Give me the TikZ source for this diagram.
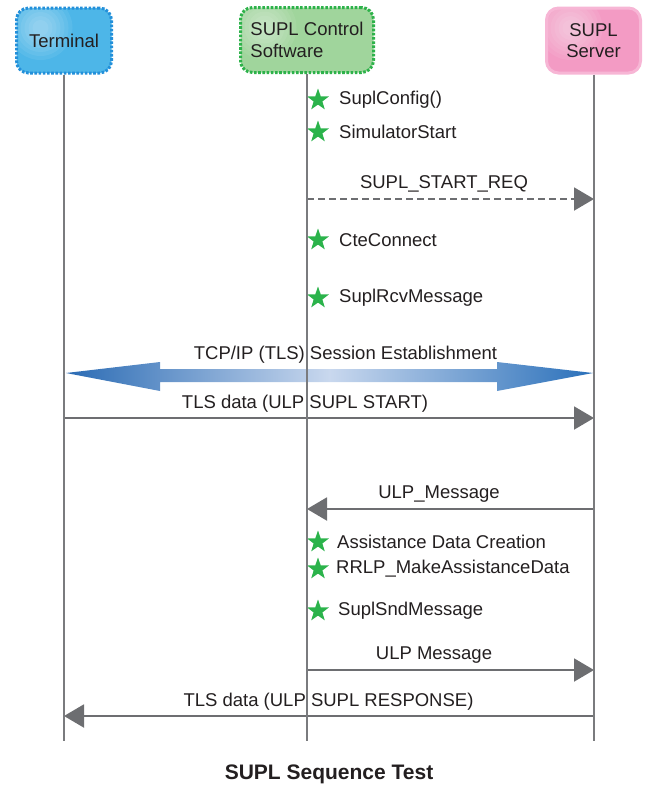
\documentclass[tikz,border=0pt]{standalone}
\usepackage{fontspec}
\setmainfont{Liberation Sans}
\usetikzlibrary{shapes.geometric,arrows.meta}
\definecolor{lifegray}{HTML}{7A7B7E}
\definecolor{arrgray}{HTML}{6D6E71}
\definecolor{termfill}{HTML}{4DB6E8}
\definecolor{termedge}{HTML}{2390DA}
\definecolor{ctlfill}{HTML}{A0D59C}
\definecolor{ctledge}{HTML}{2DB24A}
\definecolor{srvfill}{HTML}{F39BC4}
\definecolor{srvedge}{HTML}{F7B6D5}
\definecolor{stargreen}{HTML}{2BB34B}
\definecolor{txt}{HTML}{231F20}
\definecolor{bluedark}{HTML}{2A6BB4}
\definecolor{blueright}{HTML}{2A70BA}
\definecolor{bluelight}{HTML}{C9D8EE}
\begin{document}
\begin{tikzpicture}[x=1pt,y=-1pt,
  font=\fontsize{18.5}{22}\selectfont,
  every node/.style={text=txt},
  hdr/.style={rounded corners=12pt, minimum height=65pt, line width=3pt, inner sep=2pt, align=center},
  dotb/.style={dash pattern=on 2.6pt off 1.6pt},
  hl/.style={path picture={\foreach \r in {32,28,24,20,16,12,8}
      {\fill[white, opacity=0.07] ([xshift=24pt,yshift=-20pt]path picture bounding box.north west) circle (\r pt);}}},
  life/.style={draw=lifegray, line width=2pt},
  msg/.style={draw=arrgray, line width=2pt, -{Triangle[length=20pt,width=23pt,fill=arrgray]}},
  dmsg/.style={msg, dash pattern=on 7pt off 4pt},
  starmark/.style={star, star points=5, star point ratio=2.5, fill=stargreen, minimum size=23pt, inner sep=0pt},
  act/.style={anchor=west, inner sep=0pt},
  lbl/.style={inner sep=0pt}]
\useasboundingbox (0,0) rectangle (648,785);

% header boxes
\node[hdr, dotb, draw=termedge, fill=termfill, hl, minimum width=95pt] (term) at (64,40.5) {Terminal};
\node[hdr, dotb, draw=ctledge, fill=ctlfill, hl, minimum width=133pt, align=left] (ctl) at (307,40) {SUPL Control\\[-0.5pt]Software};
\node[hdr, draw=srvedge, fill=srvfill, hl, minimum width=94pt] (srv) at (593.5,40.5) {SUPL\\[-0.5pt]Server};

\coordinate (bot) at (0,741);

% actions on control software
\node[starmark] (s1) at (318,100) {};
\node[act] (a1) at (339,100) {SuplConfig()};
\node[starmark] (s2) at (318,132) {};
\node[act] (a2) at (339,132) {SimulatorStart};
\node[starmark] (s3) at (318,240) {};
\node[act] (a3) at (339,240) {CteConnect};
\node[starmark] (s4) at (318,298) {};
\node[act] (a4) at (339,298) {SuplRcvMessage};
\node[starmark] (s5) at (318,542) {};
\node[act] (a5) at (337,542) {Assistance Data Creation};
\node[starmark] (s6) at (318,569) {};
\node[act] (a6) at (336,569) {RRLP\_MakeAssistanceData};
\node[starmark] (s7) at (318,611) {};
\node[act] (a7) at (338,611) {SuplSndMessage};

% message endpoints
\coordinate (m1a) at (307,199); \coordinate (m1b) at (594,199);
\coordinate (m3a) at (64,418);  \coordinate (m3b) at (594,418);
\coordinate (m4a) at (594,509); \coordinate (m4b) at (307,509);
\coordinate (m5a) at (307,670); \coordinate (m5b) at (594,670);
\coordinate (m6a) at (594,716); \coordinate (m6b) at (64,716);

% messages
\draw[dmsg] (m1a) -- (m1b);
\node[lbl] (l1) at (444,183.5) {SUPL\_START\_REQ};

\shade[left color=bluedark, right color=blueright, middle color=bluelight]
  (66,373) -- (160,362) -- (160,369) -- (497,369) -- (497,362) -- (593,373)
  -- (497,391) -- (497,382) -- (160,382) -- (160,391) -- cycle;
\node[lbl] (l2) at (345.5,354.5) {TCP/IP (TLS) Session Establishment};

\draw[msg] (m3a) -- (m3b);
\node[lbl] (l3) at (305,404) {TLS data (ULP SUPL START)};

\draw[msg] (m4a) -- (m4b);
\node[lbl] (l4) at (439,494) {ULP\_Message};

\draw[msg] (m5a) -- (m5b);
\node[lbl] (l5) at (434,655) {ULP Message};

\draw[msg] (m6a) -- (m6b);
\node[lbl] (l6) at (328.5,702) {TLS data (ULP SUPL RESPONSE)};

% lifelines
\draw[life] (term.south) -- (term.south |- bot);
\draw[life] (ctl.south) -- (ctl.south |- bot);
\draw[life] (srv.south) -- (srv.south |- bot);

% title
\node[lbl, font=\fontsize{21}{24}\selectfont\bfseries] (title) at (329,774.5) {SUPL Sequence Test};
\end{tikzpicture}
\end{document}
